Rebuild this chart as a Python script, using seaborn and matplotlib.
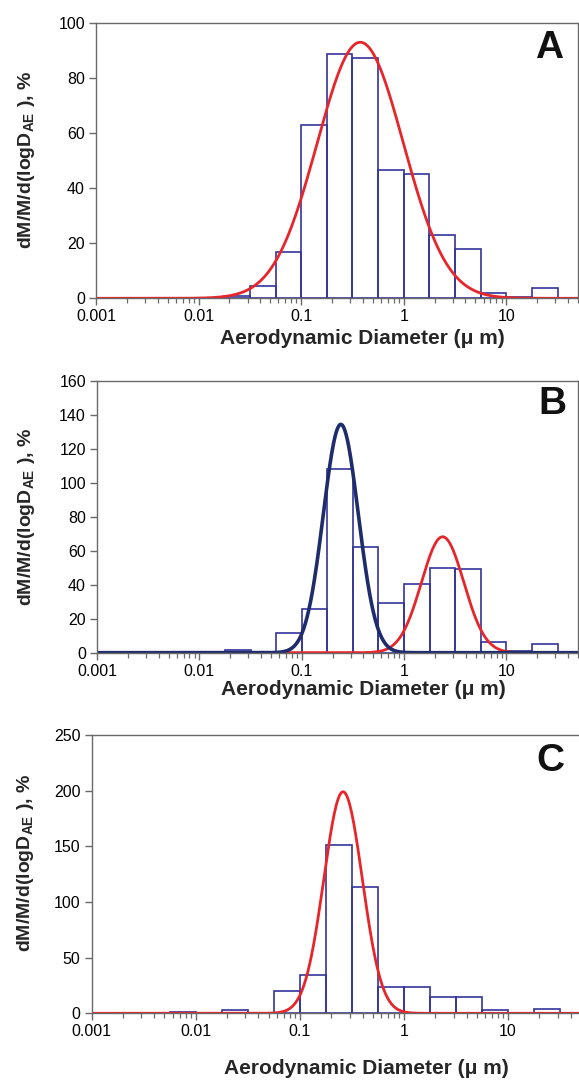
import numpy as np
import pandas as pd
import matplotlib
matplotlib.use("Agg")
import matplotlib.pyplot as plt
import seaborn as sns
from matplotlib.ticker import FixedLocator, LogLocator, NullFormatter

# ---------------- data ----------------
# impactor stage boundaries, log10(aerodynamic diameter / um)
bin_edges_log = [-2.25, -2.0, -1.75, -1.5, -1.25, -1.0, -0.75, -0.5,
                 -0.25, 0.0, 0.25, 0.5, 0.75, 1.0, 1.25, 1.5]
# normalised mass distribution dM/M/dlogD (%) per stage
mass_A = [0, 0, 0.9, 4.5, 16.7, 63.0, 88.7, 87.2, 46.7, 45.1, 23.0, 18.1, 2.1, 0.5, 3.6]
mass_B = [0, 0, 1.6, 0, 11.8, 25.5, 107.8, 62.4, 29.4, 40.2, 49.6, 49.2, 6.5, 1.0, 5.3]
mass_C = [1.5, 0, 3.0, 0, 20.0, 34.7, 151.5, 113.2, 23.4, 23.4, 14.4, 14.4, 3.0, 0, 3.6]

# log-normal fits: (amplitude %, mode um, sigma in decades)
fit_A = [(93.1, 0.377, 0.42)]
fit_B_fine = [(134.3, 0.241, 0.171)]
fit_B_coarse = [(68.2, 2.38, 0.207)]
fit_C = [(199.0, 0.26, 0.185)]

panel_labels = ["A", "B", "C"]
y_ticks_A = [0, 20, 40, 60, 80, 100]
y_ticks_B = [0, 20, 40, 60, 80, 100, 120, 140, 160]
y_ticks_C = [0, 50, 100, 150, 200, 250]
x_tick_vals = [0.001, 0.01, 0.1, 1, 10]
x_tick_labels = ["0.001", "0.01", "0.1", "1", "10"]
x_limits = (0.001, 50)

# ---------------- style ----------------
sns.set_style("white")
plt.rcParams["font.family"] = ["Liberation Sans", "DejaVu Sans"]
plt.rcParams["mathtext.fontset"] = "custom"
plt.rcParams["mathtext.rm"] = "Liberation Sans:bold"
plt.rcParams["mathtext.bf"] = "Liberation Sans:bold"
plt.rcParams["mathtext.it"] = "Liberation Sans:bold:italic"

BAR = "#34349c"
RED = "#e8252a"
NAVY = "#1e2c6c"
SPINE = "#6a6a6a"

fig = plt.figure(figsize=(5.79, 10.8), dpi=100)
W, H = 579.0, 1080.0

def add_ax(left, top, right, bottom):
    return fig.add_axes([left / W, 1 - bottom / H, (right - left) / W, (bottom - top) / H])

axA = add_ax(96, 23.3, 578, 298.3)
axB = add_ax(97, 380.7, 578, 652.7)
axC = add_ax(91.7, 735, 580.8, 1013.3)

centers = [10 ** ((bin_edges_log[i] + bin_edges_log[i + 1]) / 2) for i in range(len(bin_edges_log) - 1)]
xgrid = np.logspace(np.log10(x_limits[0]), np.log10(x_limits[1]), 800)

def lognorm(params):
    amp, mode, sig = params[0]
    return amp * np.exp(-((np.log10(xgrid) - np.log10(mode)) ** 2) / (2 * sig ** 2))

def draw(ax, mass, fits, yticks, letter, letter_pos, xlab_pos, ylab_pos):
    df = pd.DataFrame({"diameter": centers, "mass": mass})
    sns.histplot(data=df, x="diameter", weights="mass", bins=bin_edges_log,
                 log_scale=True, fill=False, element="bars", color=BAR,
                 linewidth=1.2, ax=ax)
    for params, col, lw in fits:
        sns.lineplot(x=xgrid, y=lognorm(params), color=col, linewidth=lw, ax=ax)
    ax.set_xscale("log")
    ax.set_xlim(*x_limits)
    ax.set_ylim(yticks[0], yticks[-1])
    ax.xaxis.set_major_locator(FixedLocator(x_tick_vals))
    ax.set_xticklabels(x_tick_labels)
    ax.xaxis.set_minor_locator(LogLocator(base=10, subs=np.arange(2, 10)))
    ax.xaxis.set_minor_formatter(NullFormatter())
    ax.set_yticks(yticks)
    ax.tick_params(axis="both", which="major", direction="out", length=5, width=1,
                   color=SPINE, labelsize=11.5, pad=3, labelcolor="black")
    ax.tick_params(axis="x", which="minor", direction="out", length=3.5, width=0.9,
                   color=SPINE, bottom=True)
    ax.tick_params(axis="x", which="both", bottom=True)
    ax.tick_params(axis="y", which="both", left=True)
    for s in ax.spines.values():
        s.set_visible(True)
        s.set_color(SPINE)
        s.set_linewidth(1.0)
    ax.set_xlabel("Aerodynamic Diameter (\u03bc m)", fontsize=15, fontweight="bold")
    ax.xaxis.label.set_va("center")
    ax.xaxis.set_label_coords(*xlab_pos)
    ax.set_ylabel(r"dM/M/d(logD$_{\mathrm{AE}}$ ), %", fontsize=14, fontweight="bold")
    ax.yaxis.label.set_va("center")
    ax.yaxis.set_label_coords(*ylab_pos)
    ax.text(letter_pos[0], letter_pos[1], letter, transform=ax.transAxes,
            ha="center", va="center", fontsize=28, fontweight="bold", color="#111111")

draw(axA, mass_A, [(fit_A, RED, 2.0)], y_ticks_A, panel_labels[0],
     (0.94, 0.91), (0.552, -0.1455), (-0.145, 0.505))
draw(axB, mass_B, [(fit_B_coarse, RED, 2.0), (fit_B_fine, NAVY, 2.6)], y_ticks_B,
     panel_labels[1], (0.946, 0.916), (0.553, -0.137), (-0.146, 0.50))
draw(axC, mass_C, [(fit_C, RED, 2.0)], y_ticks_C, panel_labels[2],
     (0.937, 0.907), (0.561, -0.1966), (-0.136, 0.54))

fig.savefig("out.png", dpi=100)
